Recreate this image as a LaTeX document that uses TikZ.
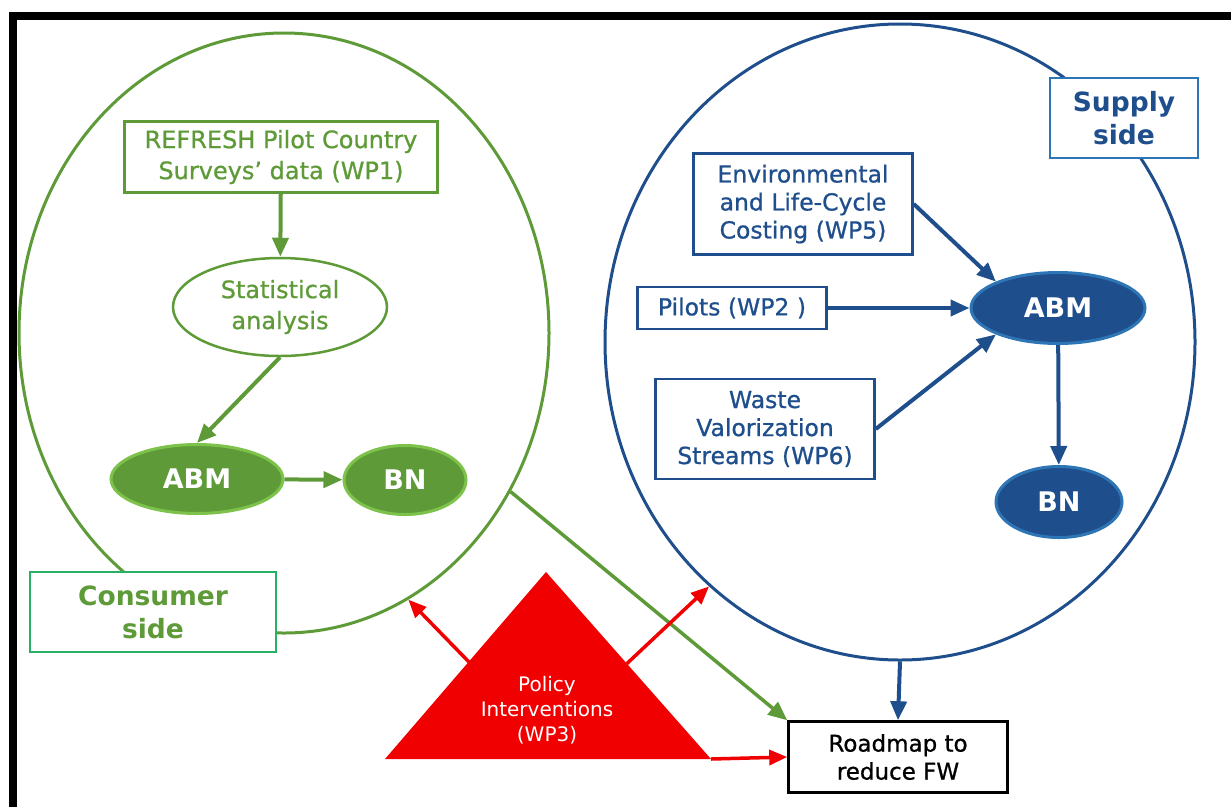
\documentclass[tikz,border=0pt]{standalone}
\usepackage{fontspec}
\setmainfont{DejaVu Sans}
\newfontfamily\medfont{DejaVu Sans}[FakeBold=0.8]
\usetikzlibrary{arrows.meta}
\usetikzlibrary{shapes.geometric}
\usetikzlibrary{calc}
\definecolor{mgreen}{RGB}{94,155,56}
\definecolor{lgreen}{RGB}{125,194,75}
\definecolor{tgreen}{RGB}{40,176,100}
\definecolor{mblue}{RGB}{31,78,140}
\definecolor{lblue}{RGB}{46,117,182}
\definecolor{mred}{RGB}{240,0,0}

\begin{document}
\begin{tikzpicture}[x=1pt, y=-1pt,
    gbox/.style={draw=mgreen, line width=2.5pt, text=mgreen, align=center, inner sep=0pt, font=\medfont\fontsize{24}{31}\selectfont},
    bbox/.style={draw=mblue, line width=2.5pt, text=mblue, align=center, inner sep=0pt, font=\medfont\fontsize{23.5}{28}\selectfont},
    gfill/.style={ellipse, draw=lgreen, fill=mgreen, line width=3pt, text=white, inner sep=0pt, font=\bfseries\fontsize{27}{30}\selectfont},
    bfill/.style={ellipse, draw=lblue, fill=mblue, line width=3pt, text=white, inner sep=0pt, font=\bfseries\fontsize{27}{30}\selectfont},
    sidelbl/.style={fill=white, line width=2.5pt, align=center, inner sep=0pt, font=\bfseries\fontsize{26.5}{33}\selectfont},
    garrow/.style={draw=mgreen, line width=4pt, -{Triangle[length=19pt,width=16pt]}},
    barrow/.style={draw=mblue, line width=4pt, -{Triangle[length=19pt,width=16pt]}},
    rarrow/.style={draw=mred, line width=3.5pt, -{Triangle[length=18pt,width=15pt]}}]
    \useasboundingbox (0,0) rectangle (1231,807);
    \draw [line width=8pt] (13,807) -- (13,16) -- (1231,16);

    % the two sides
    \node [ellipse, draw=mgreen, line width=3pt, minimum width=530pt, minimum height=600pt] (consumer) at (284,333) {};
    \node [ellipse, draw=mblue, line width=3pt, minimum width=590pt, minimum height=636pt] (supply) at (900,342) {};

    % consumer side
    \node [gbox, minimum width=313pt, minimum height=71pt] (survey) at (281,157) {REFRESH Pilot Country\\Surveys’ data (WP1)};
    \node [gbox, ellipse, minimum width=214pt, minimum height=98pt] (stats) at (280,307) {Statistical\\analysis};
    \node [gfill, minimum width=172pt, minimum height=69pt] (abmc) at (197,479) {ABM};
    \node [gfill, minimum width=122pt, minimum height=69pt] (bnc) at (405,480) {BN};
    \node [sidelbl, draw=tgreen, text=mgreen, minimum width=246pt, minimum height=80pt] (consumerlbl) at (153,612) {Consumer\\side};

    \draw [garrow] (survey) -- (stats);
    \draw [garrow] (stats.south) -- (abmc.north);
    \draw [garrow] (abmc) -- (bnc);

    % supply side
    \node [bbox, minimum width=219pt, minimum height=101pt] (lcc) at (803,204) {Environmental\\and Life-Cycle\\Costing (WP5)};
    \node [bbox, minimum width=189pt, minimum height=42pt] (pilots) at (732,308) {Pilots (WP2 )};
    \node [bbox, minimum width=219pt, minimum height=100pt] (waste) at (765,429) {Waste\\Valorization\\Streams (WP6)};
    \node [bfill, minimum width=174pt, minimum height=71pt] (abms) at (1058,308) {ABM};
    \node [bfill, minimum width=126pt, minimum height=71pt] (bns) at (1059,502) {BN};
    \node [sidelbl, draw=lblue, text=mblue, minimum width=148pt, minimum height=80pt] (supplylbl) at (1124,118) {Supply\\side};

    \draw [barrow] (lcc.east) -- (abms.157);
    \draw [barrow] (pilots) -- (abms);
    \draw [barrow] (waste.east) -- (abms.203);
    \draw [barrow] (abms) -- (bns);

    % roadmap
    \node [draw=black, fill=white, line width=2.5pt, align=center, inner sep=0pt, font=\medfont\fontsize{23}{28}\selectfont, minimum width=219pt, minimum height=71pt] (roadmap) at (898,757) {Roadmap to\\reduce FW};
    \draw [garrow, line width=3.5pt] (consumer.-35.4) -- (roadmap.north west);
    \draw [barrow] (supply.south) -- (roadmap.north);

    % policy triangle
    \coordinate (apex) at (546,572);
    \coordinate (baseL) at (385,759);
    \coordinate (baseR) at (711,759);
    \fill [mred] (apex) -- (baseL) -- (baseR) -- cycle;
    \node [text=white, align=center, font=\fontsize{20}{25}\selectfont] (policy) at (547,710) {Policy\\Interventions\\(WP3)};
    \coordinate (redL) at ($(apex)!0.48!(baseL)$);
    \coordinate (redR) at ($(apex)!0.49!(baseR)$);
    \draw [rarrow] (redL) -- (consumer.-65.7);
    \draw [rarrow] (redR) -- (supply.232.5);
    \draw [rarrow] (baseR) -- (roadmap.west);
  \end{tikzpicture}
\end{document}
